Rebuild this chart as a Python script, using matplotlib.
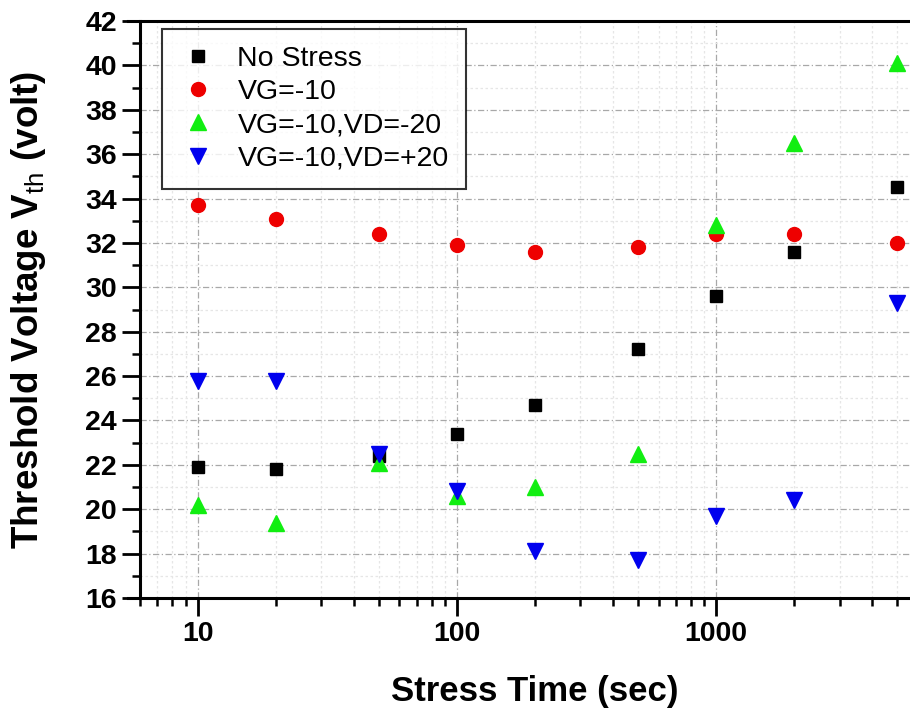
import matplotlib
matplotlib.use("Agg")
import matplotlib.pyplot as plt
from matplotlib.ticker import LogLocator, MultipleLocator, NullFormatter, FixedLocator

plt.rcParams['font.family'] = ['Liberation Sans', 'DejaVu Sans']
plt.rcParams['mathtext.fontset'] = 'custom'
plt.rcParams['mathtext.rm'] = 'Liberation Sans'

# stress times (sec) and measured threshold voltages (volt)
stress_time = [10, 20, 50, 100, 200, 500, 1000, 2000, 5000]
vth_no_stress = [21.9, 21.8, 22.4, 23.4, 24.7, 27.2, 29.6, 31.6, 34.5]
vth_vg = [33.7, 33.1, 32.4, 31.9, 31.6, 31.8, 32.4, 32.4, 32.0]
vth_vg_vd_neg = [20.2, 19.4, 22.1, 20.6, 21.0, 22.5, 32.8, 36.5, 40.1]
vth_vg_vd_pos = [25.8, 25.8, 22.5, 20.8, 18.1, 17.7, 19.7, 20.4, 29.3]

series_labels = ["No Stress", "VG=-10", "VG=-10,VD=-20", "VG=-10,VD=+20"]

fig = plt.figure(figsize=(9.10, 7.13), dpi=100)
ax = fig.add_axes([140 / 910, 1 - 598 / 713, 770 / 910, 577 / 713])

ax.plot(stress_time, vth_no_stress, linestyle='none', marker='s', ms=8.5,
        color='black', label=series_labels[0])
ax.plot(stress_time, vth_vg, linestyle='none', marker='o', ms=10,
        color='#ee0000', mec='#ee0000', label=series_labels[1])
ax.plot(stress_time, vth_vg_vd_neg, linestyle='none', marker='^', ms=11,
        color='#11ee11', label=series_labels[2])
ax.plot(stress_time, vth_vg_vd_pos, linestyle='none', marker='v', ms=11,
        color='#0000ee', label=series_labels[3])

ax.set_xscale('log')
ax.set_xlim(6, 5600)
ax.set_ylim(16, 42)

ax.xaxis.set_major_locator(FixedLocator([10, 100, 1000]))
ax.xaxis.set_major_formatter(plt.FuncFormatter(lambda v, p: "%d" % v))
ax.xaxis.set_minor_locator(LogLocator(base=10, subs=range(2, 10)))
ax.xaxis.set_minor_formatter(NullFormatter())
ax.yaxis.set_major_locator(MultipleLocator(2))
ax.yaxis.set_minor_locator(MultipleLocator(1))

ax.tick_params(which='major', direction='out', length=13, width=2,
               labelsize=20.5, pad=3.5)
ax.tick_params(which='minor', direction='out', length=6, width=1.8)
ax.tick_params(top=False, right=False, which='both')
for lbl in ax.get_xticklabels() + ax.get_yticklabels():
    lbl.set_fontweight('bold')

ax.grid(which='major', color='#a8a8a8', lw=0.9, ls=(0, (5, 2, 1, 2)))
ax.grid(which='minor', color='#e6e6e6', lw=0.9, ls=(0, (2, 2)))
ax.set_axisbelow(True)

for side in ['left', 'bottom', 'top']:
    ax.spines[side].set_linewidth(2.2)
ax.spines['right'].set_visible(False)
# Origin-style frame: horizontal axis lines run a little past the y axis
ax.spines['bottom'].set_bounds(5.37, 5600)
ax.spines['top'].set_bounds(5.37, 5600)

ax.set_xlabel("Stress Time (sec)", fontsize=25, fontweight='bold')
ax.xaxis.set_label_coords(0.513, -0.133)
ax.set_ylabel(r"Threshold Voltage V$_{\mathrm{th}}$ (volt)", fontsize=26.5,
              fontweight='bold')
ax.yaxis.set_label_coords(-0.119, 0.5)

leg = ax.legend(loc='upper left', bbox_to_anchor=(0.0286, 0.986),
                borderaxespad=0, fontsize=20.5, frameon=True, fancybox=False,
                edgecolor='black', borderpad=0.6, handlelength=1.3,
                handletextpad=0.75, labelspacing=0.25, numpoints=1)
leg.get_frame().set_linewidth(1.5)

fig.savefig("out.png", dpi=100)
